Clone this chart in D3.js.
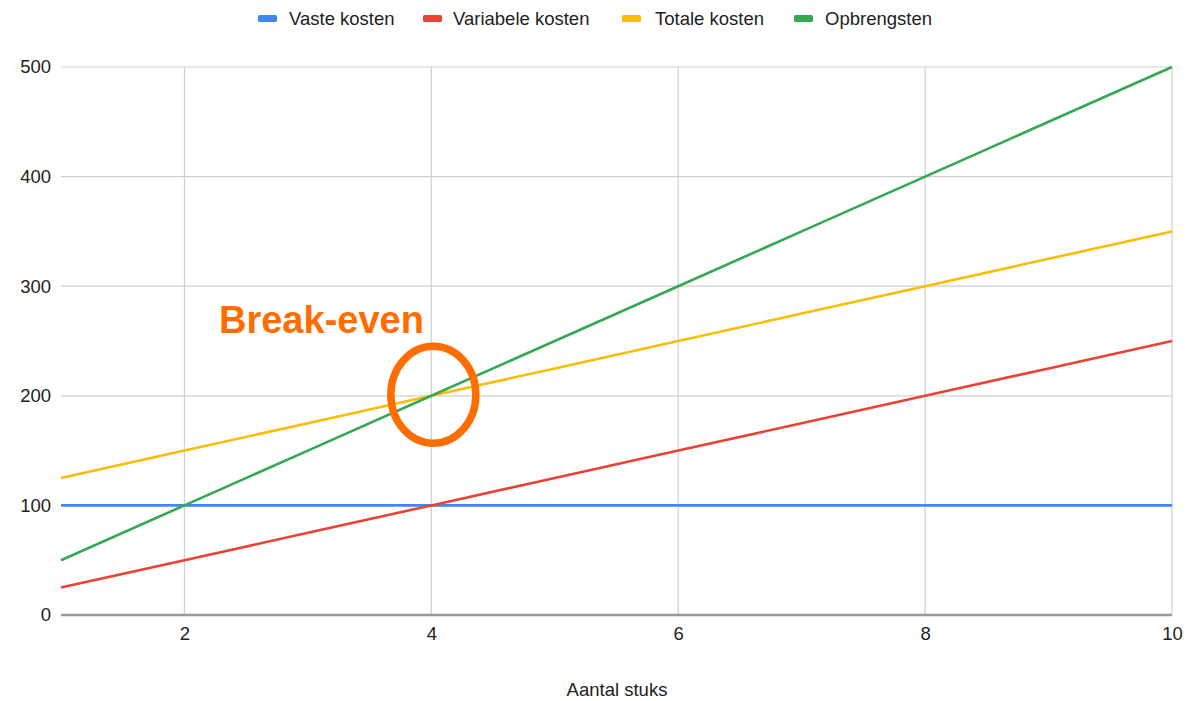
<!DOCTYPE html>
<html><head><meta charset="utf-8">
<script src="https://cdn.jsdelivr.net/npm/d3@7"></script>
<style>body{margin:0;background:#fff}svg{display:block}text{font-family:"Liberation Sans",Arial,sans-serif}</style>
</head><body>
<svg id="c" width="1199" height="701"></svg>
<script>
const aantal = [1,2,3,4,5,6,7,8,9,10];
const vasteKosten = [100,100,100,100,100,100,100,100,100,100];
const variabeleKosten = [25,50,75,100,125,150,175,200,225,250];
const totaleKosten = [125,150,175,200,225,250,275,300,325,350];
const opbrengsten = [50,100,150,200,250,300,350,400,450,500];
const seriesNames = ["Vaste kosten","Variabele kosten","Totale kosten","Opbrengsten"];
const seriesColors = ["#4285F4","#EA4335","#FBBC04","#34A853"];
const xTicks = [2,4,6,8,10];
const yTicks = [0,100,200,300,400,500];
const breakEven = {x:4, y:200, label:"Break-even"};

const svg = d3.select("#c");
const m = {l:61, r:1172, t:67, b:615};
const x = d3.scaleLinear().domain([1,10]).range([m.l, m.r]);
const y = d3.scaleLinear().domain([0,500]).range([m.b, m.t]);

// gridlines
svg.append("g").selectAll("line").data(yTicks.filter(d=>d>0)).join("line")
  .attr("x1",m.l).attr("x2",m.r).attr("y1",d=>y(d)).attr("y2",d=>y(d))
  .attr("stroke","#d0d0d0").attr("stroke-width",1.2);
svg.append("g").selectAll("line").data(xTicks).join("line")
  .attr("x1",d=>x(d)).attr("x2",d=>x(d)).attr("y1",m.t).attr("y2",m.b)
  .attr("stroke","#d0d0d0").attr("stroke-width",1.2);

// axes labels
const xAxis = d3.axisBottom(x).tickValues(xTicks).tickSize(0).tickPadding(12).tickFormat(d3.format("d"));
const gx = svg.append("g").attr("transform",`translate(0,${m.b})`).call(xAxis);
gx.select(".domain").remove();
gx.selectAll("text").attr("font-size",18.5).attr("fill","#222").attr("font-family","Liberation Sans, Arial, sans-serif");
const yAxis = d3.axisLeft(y).tickValues(yTicks).tickSize(0).tickPadding(10).tickFormat(d3.format("d"));
const gy = svg.append("g").attr("transform",`translate(${m.l},0)`).call(yAxis);
gy.select(".domain").remove();
gy.selectAll("text").attr("font-size",18.5).attr("fill","#222").attr("font-family","Liberation Sans, Arial, sans-serif");

// baseline
svg.append("line").attr("x1",m.l).attr("x2",m.r).attr("y1",y(0)).attr("y2",y(0))
  .attr("stroke","#999").attr("stroke-width",2.5);

// lines
const allSeries = [vasteKosten, variabeleKosten, totaleKosten, opbrengsten];
const line = d3.line().x((d,i)=>x(aantal[i])).y(d=>y(d));
allSeries.forEach((s,i)=>{
  svg.append("path").datum(s).attr("d",line).attr("fill","none")
    .attr("stroke",seriesColors[i]).attr("stroke-width",2.6);
});

// legend
const legendItems = [{rx:258,tx:289},{rx:423,tx:453},{rx:622,tx:655},{rx:794,tx:825}];
const lg = svg.append("g");
seriesNames.forEach((n,i)=>{
  lg.append("rect").attr("x",legendItems[i].rx).attr("y",15).attr("width",19).attr("height",7)
    .attr("rx",1.5).attr("fill",seriesColors[i]);
  lg.append("text").attr("x",legendItems[i].tx).attr("y",25).attr("font-size",18.5)
    .attr("fill","#222").text(n);
});

// x title
svg.append("text").attr("x",617).attr("y",696).attr("text-anchor","middle")
  .attr("font-size",18.5).attr("fill","#222").text("Aantal stuks");

// annotation
svg.append("ellipse").attr("cx",x(breakEven.x)+2).attr("cy",y(breakEven.y)-1)
  .attr("rx",42.5).attr("ry",48.5).attr("fill","none").attr("stroke","#FF6D01").attr("stroke-width",7.5);
svg.append("text").attr("x",219).attr("y",333).attr("font-size",38).attr("font-weight","bold")
  .attr("fill","#FF6D01").text(breakEven.label);
</script>
</body></html>
